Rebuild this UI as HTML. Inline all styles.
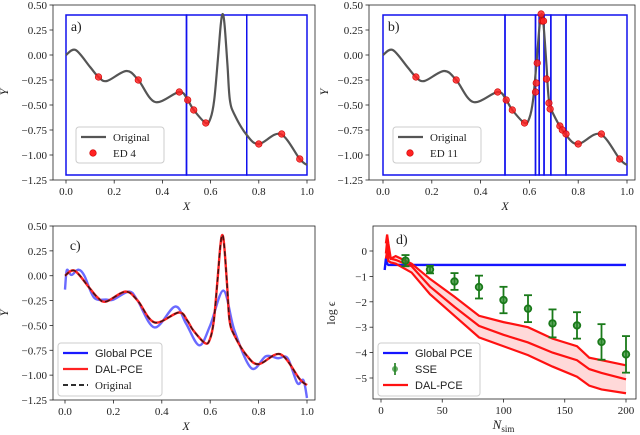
<!DOCTYPE html>
<html><head><meta charset="utf-8"><style>
body{margin:0;background:#fff}
svg{display:block;font-family:"Liberation Serif",serif}
</style></head><body>
<svg id="s" width="640" height="435" viewBox="0 0 640 435"></svg>
<script>
// ---- data ----
const origX=[0,0.04,0.1,0.135,0.17,0.25,0.3,0.37,0.47,0.505,0.53,0.58,0.6,0.615,0.63,0.642,0.65,0.658,0.67,0.68,0.7,0.75,0.8,0.89,0.97,1.0];
const origY=[0,0.05,-0.12,-0.22,-0.26,-0.16,-0.25,-0.47,-0.37,-0.45,-0.55,-0.68,-0.63,-0.45,-0.05,0.3,0.41,0.3,-0.1,-0.45,-0.6,-0.8,-0.89,-0.79,-1.04,-1.1];
const gpceX=[0,0.005,0.01,0.02,0.03,0.055,0.08,0.12,0.17,0.2,0.265,0.3,0.37,0.455,0.5,0.555,0.6,0.655,0.7,0.77,0.83,0.88,0.92,0.96,0.985,1.0];
const gpceY=[-0.14,0.02,0.06,0.02,0.01,0.06,0.0,-0.22,-0.24,-0.24,-0.16,-0.25,-0.52,-0.31,-0.48,-0.7,-0.5,-0.15,-0.55,-0.93,-0.81,-0.83,-0.83,-1.08,-1.05,-1.23];
const edA_X=[0.135,0.3,0.47,0.505,0.53,0.58,0.8,0.895,0.97];
const edA_Y=[-0.22,-0.25,-0.37,-0.45,-0.55,-0.68,-0.89,-0.79,-1.04];
const edB_X=[0.135,0.3,0.47,0.505,0.53,0.58,0.625,0.628,0.632,0.648,0.652,0.658,0.67,0.68,0.685,0.725,0.735,0.75,0.8,0.895,0.97];
const edB_Y=[-0.22,-0.25,-0.37,-0.45,-0.55,-0.68,-0.37,-0.28,-0.08,0.41,0.34,0.34,-0.24,-0.48,-0.54,-0.71,-0.75,-0.79,-0.89,-0.79,-1.04];
const boxA=[0,0.5,0.75,1];
const boxB=[0,0.5,0.625,0.64,0.66,0.688,0.75,1];
const yTicksXY=[0.5,0.25,0,-0.25,-0.5,-0.75,-1,-1.25];
const yTickLbl=["0.50","0.25","0.00","\u22120.25","\u22120.50","\u22120.75","\u22121.00","\u22121.25"];
const xTicks=[0,0.2,0.4,0.6,0.8,1.0];
const xTickLbl=["0.0","0.2","0.4","0.6","0.8","1.0"];
const nGlob=[3,4,5,6,8,200];
const eGlob=[-0.75,-0.3,-0.5,-0.55,-0.55,-0.55];
const nRed=[4,5,6,8,12,25,40,60,80,100,120,140,160,170,180,200];
const eUp=[0.3,0.65,0.3,-0.3,-0.2,-0.5,-1.1,-1.8,-2.55,-2.8,-3.0,-3.45,-3.75,-4.2,-4.3,-4.5];
const eMed=[-0.1,0.4,-0.2,-0.3,-0.35,-0.6,-1.4,-2.2,-2.95,-3.3,-3.6,-4.0,-4.3,-4.65,-4.8,-5.05];
const eLow=[-0.3,0.0,-0.4,-0.45,-0.5,-0.85,-1.7,-2.55,-3.4,-3.75,-4.1,-4.55,-4.95,-5.3,-5.45,-5.6];
const sseN=[20,40,60,80,100,120,140,160,180,200];
const sseM=[-0.38,-0.73,-1.2,-1.42,-1.93,-2.27,-2.85,-2.93,-3.58,-4.07];
const sseE=[0.22,0.15,0.33,0.45,0.52,0.53,0.55,0.52,0.7,0.72];
const dYTicks=[0,-1,-2,-3,-4,-5];
const dYLbl=["0","\u22121","\u22122","\u22123","\u22124","\u22125"];
const dXTicks=[0,50,100,150,200];
const dXLbl=["0","50","100","150","200"];

const S=document.getElementById('s');const NS='http://www.w3.org/2000/svg';
function mk(t,a,p){const e=document.createElementNS(NS,t);for(const k in a)e.setAttribute(k,a[k]);(p||S).appendChild(e);return e;}
function txt(x,y,s,a,p){const e=mk('text',Object.assign({x:x,y:y,'font-size':11,fill:'#222'},a),p);e.textContent=s;return e;}
function smooth(px){let d='M'+px[0][0]+','+px[0][1];for(let i=0;i<px.length-1;i++){const p0=px[Math.max(i-1,0)],p1=px[i],p2=px[i+1],p3=px[Math.min(i+2,px.length-1)];
d+=' C'+(p1[0]+(p2[0]-p0[0])/6)+','+(p1[1]+(p2[1]-p0[1])/6)+' '+(p2[0]-(p3[0]-p1[0])/6)+','+(p2[1]-(p3[1]-p1[1])/6)+' '+p2[0]+','+p2[1];}return d;}
function poly(px){return px.map((p,i)=>(i?'L':'M')+p[0]+','+p[1]).join(' ');}
function lin(d0,d1,r0,r1){return v=>r0+(v-d0)/(d1-d0)*(r1-r0);}

function axesFrame(g,L,T,R,B,name){const r=mk('rect',{x:L,y:T,width:R-L,height:B-T,fill:'none',stroke:'#222','stroke-width':0.8},g);}
function ticks(g,sx,sy,L,B,xt,xl,yt,yl){
 const gx=mk('g',{},g);
 xt.forEach((v,i)=>{const x=sx(v);mk('line',{x1:x,x2:x,y1:B,y2:B+3.5,stroke:'#222','stroke-width':0.8},gx);txt(x,B+15,xl[i],{'text-anchor':'middle'},gx);});
 const gy=mk('g',{},g);
 yt.forEach((v,i)=>{const y=sy(v);mk('line',{x1:L,x2:L-3.5,y1:y,y2:y,stroke:'#222','stroke-width':0.8},gy);txt(L-6,y+4,yl[i],{'text-anchor':'end'},gy);});
}

function panelTop(ox,L,R,x0,x1,label,boxes,edx,edy,edLabel,id){
 const g=mk('g',{});
 const T=5,B=180;const sx=lin(0,1,x0,x1),sy=lin(-1.25,0.5,B,T);
 axesFrame(g,L,T,R,B,'panel-'+id);
 const gb=mk('g',{},g);
 for(let i=0;i<boxes.length-1;i++){mk('rect',{x:sx(boxes[i]),y:sy(0.4),width:sx(boxes[i+1])-sx(boxes[i]),height:sy(-1.2)-sy(0.4),fill:'none',stroke:'#1010ee','stroke-width':1.5},gb);}
 const c=mk('path',{d:smooth(origX.map((x,i)=>[sx(x),sy(origY[i])])),fill:'none',stroke:'#555','stroke-width':2.2},g);
 
 edx.forEach((x,i)=>{const p=mk('circle',{cx:sx(x),cy:sy(edy[i]),r:3.3,fill:'#f22','fill-opacity':0.85,stroke:'#c00','stroke-width':0.6},g);});
 ticks(g,sx,sy,L,B,xTicks,xTickLbl,yTicksXY,yTickLbl);
 txt(sx(0.5),B+30,'X',{'text-anchor':'middle','font-style':'italic','font-size':12},g);
 txt(ox+8,92,'Y',{'text-anchor':'middle','font-style':'italic','font-size':12,transform:'rotate(-90 '+(ox+8)+' 92)'},g);
 txt(sx(0.02),T+26,label,{'font-size':14},g);
 const lg=mk('g',{},g);
 const lx=sx(0)+10,ly=sy(-0.72);
 mk('rect',{x:lx,y:ly,width:88,height:36,rx:3,fill:'#fff','fill-opacity':0.85,stroke:'#ccc'},lg);
 mk('line',{x1:lx+5,x2:lx+30,y1:ly+10,y2:ly+10,stroke:'#555','stroke-width':2.2},lg);
 txt(lx+37,ly+14,'Original',{},lg);
 mk('circle',{cx:lx+17,cy:ly+26,r:3.3,fill:'#f22',stroke:'#c00','stroke-width':0.6},lg);
 txt(lx+37,ly+30,edLabel,{},lg);
}
panelTop(0,53,315,66,307,'a)',boxA,edA_X,edA_Y,'ED 4','a');
panelTop(320,369,635,383,627,'b)',boxB,edB_X,edB_Y,'ED 11','b');

// panel c
(function(){const g=mk('g',{});
 const L=53,R=315,T=226,B=400;const sx=lin(0,1,65,307),sy=lin(-1.25,0.5,B,T);
 axesFrame(g,L,T,R,B,'panel-c');
 const b=mk('path',{d:smooth(gpceX.map((x,i)=>[sx(x),sy(gpceY[i])])),fill:'none',stroke:'#1a1aff','stroke-opacity':0.65,'stroke-width':2.4},g);
 const r=mk('path',{d:smooth(origX.map((x,i)=>[sx(x),sy(origY[i])])),fill:'none',stroke:'#f22','stroke-width':2.4},g);
 const o=mk('path',{d:smooth(origX.map((x,i)=>[sx(x),sy(origY[i])])),fill:'none',stroke:'#111','stroke-width':1.5,'stroke-dasharray':'5,3','stroke-opacity':0.8},g);
 ticks(g,sx,sy,L,B,xTicks,xTickLbl,yTicksXY,yTickLbl);
 txt(sx(0.5),B+30,'X',{'text-anchor':'middle','font-style':'italic','font-size':12},g);
 txt(8,313,'Y',{'text-anchor':'middle','font-style':'italic','font-size':12,transform:'rotate(-90 8 313)'},g);
 txt(sx(0.02),T+24,'c)',{'font-size':14},g);
 const lg=mk('g',{},g);
 const lx=58,ly=343;mk('rect',{x:lx,y:ly,width:104,height:53,rx:3,fill:'#fff','fill-opacity':0.85,stroke:'#ccc'},lg);
 mk('line',{x1:lx+5,x2:lx+30,y1:ly+10,y2:ly+10,stroke:'#1a1aff','stroke-width':2.2},lg);
 txt(lx+37,ly+14,'Global PCE',{'font-family':'Liberation Sans,sans-serif'},lg);
 mk('line',{x1:lx+5,x2:lx+30,y1:ly+26,y2:ly+26,stroke:'#f22','stroke-width':2.2},lg);
 txt(lx+37,ly+30,'DAL-PCE',{'font-family':'Liberation Sans,sans-serif'},lg);
 mk('line',{x1:lx+5,x2:lx+30,y1:ly+42,y2:ly+42,stroke:'#111','stroke-width':1.8,'stroke-dasharray':'5,3'},lg);
 txt(lx+37,ly+46,'Original',{},lg);
})();

// panel d
(function(){const g=mk('g',{});
 const L=373,R=636,T=226,B=399;const sx=lin(0,200,381,626),sy=lin(0,-5,251,378);
 axesFrame(g,L,T,R,B,'panel-d');
 const up=nRed.map((n,i)=>[sx(n),sy(eUp[i])]),lo=nRed.map((n,i)=>[sx(n),sy(eLow[i])]);
 const f=mk('path',{d:poly(up.concat(lo.slice().reverse()))+'Z',fill:'#ffd0d0','fill-opacity':0.8,stroke:'none'},g);
 const bl=mk('path',{d:poly(nGlob.map((n,i)=>[sx(n),sy(eGlob[i])])),fill:'none',stroke:'#1515ff','stroke-width':2.4},g);
 [[eUp,'dal-pce-upper'],[eMed,'dal-pce-median'],[eLow,'dal-pce-lower']].forEach(([arr,nm])=>{const p=mk('path',{d:poly(nRed.map((n,i)=>[sx(n),sy(arr[i])])),fill:'none',stroke:'#f11','stroke-width':2.2},g);});
 sseN.forEach((n,i)=>{const x=sx(n),y1=sy(sseM[i]+sseE[i]),y2=sy(sseM[i]-sseE[i]);const gg=mk('g',{stroke:'#1a7a1a','stroke-width':1.8},g);
  mk('line',{x1:x,x2:x,y1:y1,y2:y2},gg);mk('line',{x1:x-4,x2:x+4,y1:y1,y2:y1},gg);mk('line',{x1:x-4,x2:x+4,y1:y2,y2:y2},gg);
  mk('circle',{cx:x,cy:sy(sseM[i]),r:3.3,fill:'#2a8a2a','fill-opacity':0.7},gg);});
 ticks(g,sx,sy,L,B,dXTicks,dXLbl,dYTicks,dYLbl);
 const xt=txt(sx(100),B+30,'N',{'text-anchor':'middle','font-style':'italic','font-size':13},g);
 const ts=mk('tspan',{'font-size':9,'font-style':'normal',dy:3},xt);ts.textContent='sim';
 txt(335,313,'log \u03f5',{'text-anchor':'middle','font-size':12,transform:'rotate(-90 335 313)'},g);
 txt(396,244,'d)',{'font-size':14},g);
 const lg=mk('g',{},g);
 const lx=378,ly=343;mk('rect',{x:lx,y:ly,width:102,height:53,rx:3,fill:'#fff','fill-opacity':0.85,stroke:'#ccc'},lg);
 mk('line',{x1:lx+5,x2:lx+30,y1:ly+10,y2:ly+10,stroke:'#1515ff','stroke-width':2.2},lg);
 txt(lx+37,ly+14,'Global PCE',{'font-family':'Liberation Sans,sans-serif'},lg);
 mk('line',{x1:lx+17,x2:lx+17,y1:ly+20,y2:ly+32,stroke:'#1a7a1a','stroke-width':1.6},lg);
 mk('circle',{cx:lx+17,cy:ly+26,r:3,fill:'#2a8a2a','fill-opacity':0.7},lg);
 txt(lx+37,ly+30,'SSE',{'font-family':'Liberation Sans,sans-serif'},lg);
 mk('line',{x1:lx+5,x2:lx+30,y1:ly+42,y2:ly+42,stroke:'#f11','stroke-width':2.2},lg);
 txt(lx+37,ly+46,'DAL-PCE',{'font-family':'Liberation Sans,sans-serif'},lg);
})();
</script>
</body></html>
